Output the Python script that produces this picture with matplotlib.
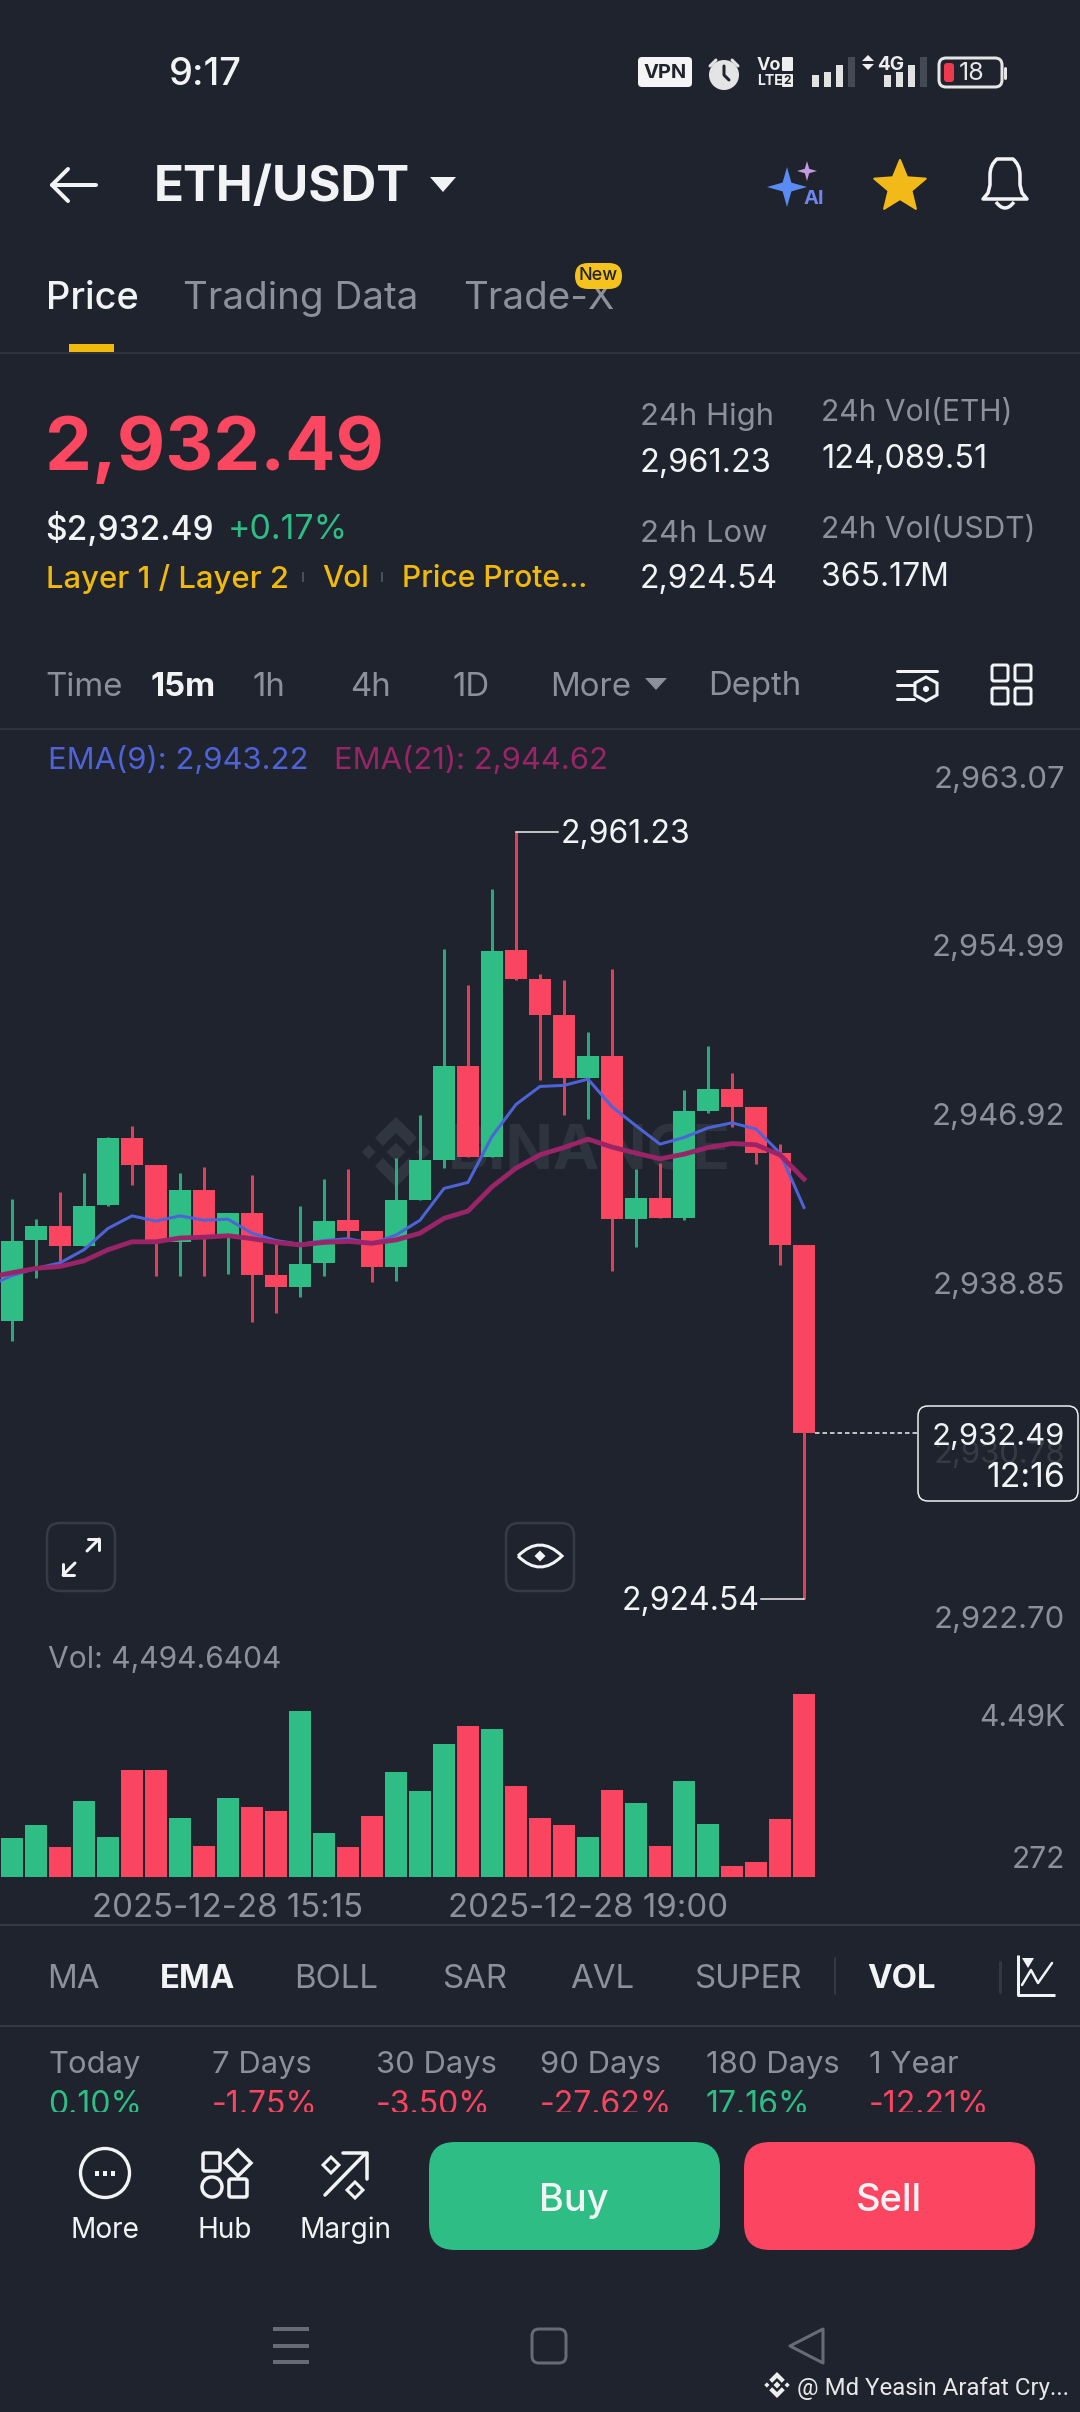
from math import cos, pi, sin

import matplotlib
matplotlib.use('Agg')
import matplotlib.pyplot as plt
from matplotlib.patches import Circle, FancyBboxPatch, PathPatch, Polygon, Rectangle
from matplotlib.path import Path
from matplotlib.transforms import ScaledTranslation

plt.rcParams['font.family'] = ['Inter', 'DejaVu Sans']

BG = '#1e232d'
GREEN = '#2ebd85'
RED = '#fa4560'
GREY = '#8b909a'
WHITE = '#f2f3f5'
YELLOW = '#f0b90b'
LINE = '#343a45'
DPI = 100
W, H = 1080, 2412

# candles, oldest first
opens = [2937.83, 2941.71, 2942.40, 2941.44, 2943.37, 2946.59, 2945.31, 2941.60, 2944.09, 2941.81,
         2943.00, 2940.04, 2939.46, 2940.62, 2942.66, 2942.16, 2940.43, 2943.62, 2945.56, 2950.06,
         2945.70, 2955.58, 2954.19, 2952.50, 2949.47, 2950.51, 2942.70, 2943.72, 2942.75, 2947.88,
         2948.93, 2948.07, 2945.87, 2941.50]
closes = [2941.69, 2942.40, 2941.44, 2943.33, 2946.59, 2945.31, 2941.72, 2944.09, 2941.93, 2943.00,
          2940.06, 2939.46, 2940.59, 2942.64, 2942.16, 2940.43, 2943.62, 2945.53, 2950.06, 2945.70,
          2955.56, 2954.19, 2952.50, 2949.47, 2950.51, 2942.70, 2943.72, 2942.75, 2947.88, 2948.93,
          2948.07, 2945.90, 2941.50, 2932.49]
highs = [2943.67, 2942.70, 2944.00, 2944.91, 2946.64, 2947.19, 2945.31, 2944.91, 2945.19, 2943.00,
         2944.82, 2941.78, 2943.32, 2944.61, 2945.10, 2942.16, 2945.62, 2947.71, 2955.61, 2953.93,
         2958.48, 2961.23, 2954.46, 2954.14, 2951.67, 2954.70, 2945.12, 2945.39, 2948.90, 2951.00,
         2949.68, 2948.07, 2946.30, 2941.50]
lows = [2936.88, 2939.88, 2940.62, 2941.42, 2943.35, 2944.34, 2940.01, 2940.01, 2940.01, 2940.10,
        2937.79, 2938.24, 2939.00, 2940.01, 2941.78, 2939.71, 2939.76, 2943.62, 2945.18, 2945.70,
        2945.70, 2954.14, 2949.36, 2947.69, 2947.51, 2940.21, 2941.36, 2942.75, 2942.65, 2947.80,
        2947.11, 2945.36, 2940.53, 2924.54]
volumes = [950, 1277, 737, 1858, 991, 2620, 2620, 1449, 753, 1940, 1719, 1629, 4077, 1089, 737, 1506, 2579,
           2112, 3267, 3709, 3643, 2227, 1441, 1269, 982, 2137, 1818, 770, 2350, 1294, 270, 377, 1425, 4494.64]

# ema lines start one candle left of the screen
ema9 = [2939.51, 2940.01, 2940.36, 2940.62, 2941.25, 2942.27, 2942.87, 2942.62, 2942.87, 2942.66, 2942.71,
        2942.04, 2941.69, 2941.51, 2941.69, 2941.78, 2941.55, 2941.95, 2942.66, 2944.18, 2944.47, 2946.67,
        2948.20, 2949.06, 2949.11, 2949.41, 2948.09, 2947.18, 2946.30, 2946.62, 2947.08, 2947.32, 2947.02,
        2945.87, 2943.27]
ema21 = [2939.92, 2940.15, 2940.36, 2940.45, 2940.72, 2941.25, 2941.63, 2941.63, 2941.81, 2941.85, 2941.92,
         2941.78, 2941.60, 2941.48, 2941.60, 2941.65, 2941.56, 2941.72, 2942.04, 2942.75, 2943.10, 2944.26,
         2945.15, 2945.79, 2946.14, 2946.54, 2946.16, 2945.87, 2945.60, 2945.82, 2946.14, 2946.33, 2946.27,
         2945.79, 2944.63]

price_ticks = [2963.07, 2954.99, 2946.92, 2938.85, 2930.78, 2922.70]
price_labels = ['2,963.07', '2,954.99', '2,946.92', '2,938.85', '2,930.78', '2,922.70']
vol_ticks = [4494.64, 272]
vol_labels = ['4.49K', '272']
date_ticks = [9, 24]
date_labels = ['2025-12-28 15:15', '2025-12-28 19:00']
high_price = 2961.23
low_price = 2924.54
last_price = 2932.49

tf_names = ['Time', '15m', '1h', '4h', '1D', 'More', 'Depth']
tf_x = [45, 151, 253, 350, 453, 550, 708]
ind_names = ['MA', 'EMA', 'BOLL', 'SAR', 'AVL', 'SUPER', 'VOL']
ind_x = [47, 160, 294, 442, 570, 694, 867]
ret_names = ['Today', '7 Days', '30 Days', '90 Days', '180 Days', '1 Year']
ret_values = ['0.10%', '-1.75%', '-3.50%', '-27.62%', '17.16%', '-12.21%']
ret_x = [48, 212, 376, 540, 706, 869]

fig = plt.figure(figsize=(W / DPI, H / DPI), dpi=DPI, facecolor=BG)


def px_axes(zorder):
    ax = fig.add_axes([0, 0, 1, 1], zorder=zorder)
    ax.set_xlim(0, W)
    ax.set_ylim(H, 0)
    ax.axis('off')
    return ax


def band_axes(top, bottom, zorder=2):
    # axes covering a horizontal pixel band of the screen
    ax = fig.add_axes([0, 1 - bottom / H, 1, (bottom - top) / H], zorder=zorder)
    ax.patch.set_alpha(0)
    for s in ax.spines.values():
        s.set_visible(False)
    # candle i is centred on pixel 12 + 24 i
    ax.set_xlim(-0.5, 44.5)
    return ax


def shift_labels(labels, offsets):
    for lab, dy in zip(labels, offsets):
        lab.set_ha('right')
        lab.set_transform(lab.get_transform() + ScaledTranslation(0, dy / DPI, fig.dpi_scale_trans))


back = px_axes(1)
ui = px_axes(5)


def txt(x, y, s, size, color=GREY, ha='left', weight='normal', **kw):
    return ui.text(x, y, s, fontsize=size * 0.72, color=color, ha=ha, va='center', fontweight=weight, **kw)


def line(xs, ys, color=WHITE, lw=3, ax=None, **kw):
    (ax or ui).plot(xs, ys, color=color, lw=lw * 0.72, solid_capstyle=kw.pop('cap', 'round'),
                    solid_joinstyle='round', **kw)


def rbox(x0, y0, x1, y1, r, fc='none', ec='none', lw=0, z=3, ax=None):
    p = FancyBboxPatch((x0 + r, y0 + r), x1 - x0 - 2 * r, y1 - y0 - 2 * r, boxstyle=f'round,pad={r},rounding_size={r}',
                       fc=fc, ec=ec, lw=lw * 0.72, zorder=z)
    (ax or ui).add_patch(p)


def diamond(cx, cy, r, fc='none', ec='none', lw=0, ax=None):
    (ax or ui).add_patch(Polygon([(cx, cy - r), (cx + r, cy), (cx, cy + r), (cx - r, cy)], closed=True,
                                 fc=fc, ec=ec, lw=lw * 0.72, zorder=4))


def sparkle(cx, cy, r, color):
    k = r * 0.22
    ui.add_patch(Polygon([(cx, cy - r), (cx + k, cy - k), (cx + r, cy), (cx + k, cy + k), (cx, cy + r),
                          (cx - k, cy + k), (cx - r, cy), (cx - k, cy - k)], closed=True, fc=color, ec='none'))


def logo(ax, cx, cy, r, color):
    diamond(cx, cy, r * 0.27, fc=color, ax=ax)
    diamond(cx - r * 0.78, cy, r * 0.2, fc=color, ax=ax)
    diamond(cx + r * 0.78, cy, r * 0.2, fc=color, ax=ax)
    for sgn in (-1, 1):
        ax.add_patch(Polygon([(cx - r * 0.6, cy + sgn * r * 0.4), (cx, cy + sgn * r), (cx + r * 0.6, cy + sgn * r * 0.4),
                              (cx + r * 0.37, cy + sgn * r * 0.17), (cx, cy + sgn * r * 0.54),
                              (cx - r * 0.37, cy + sgn * r * 0.17)], closed=True, fc=color, ec='none', zorder=4))


# ---- watermark, below the candles
logo(back, 396, 1152, 35, '#30363f')
back.text(448, 1153, 'BINANCE', fontsize=62 * 0.72, color='#2e343e', va='center', fontweight='bold')

# ---- candles
colors = [GREEN if c > o else RED for o, c in zip(opens, closes)]
xs = list(range(len(opens)))
PX_PRICE = 0.04783
chart = band_axes(750, 1640)
chart.set_ylim(high_price - (1640 - 832) * PX_PRICE, high_price + (832 - 750) * PX_PRICE)
chart.vlines(xs, lows, highs, colors=colors, lw=3 * 0.72, alpha=0.88, zorder=2)
chart.bar(xs, [abs(c - o) for o, c in zip(opens, closes)], bottom=[min(o, c) for o, c in zip(opens, closes)],
          width=0.885, color=colors, zorder=3)
ema_x = list(range(-1, len(opens)))
chart.plot(ema_x, ema9, color='#4f63d9', lw=3 * 0.72, zorder=4)
chart.plot(ema_x, ema21, color='#9a2468', lw=4.8 * 0.72, zorder=5)
chart.set_xticks([])
chart.yaxis.tick_right()
chart.set_yticks(price_ticks, price_labels)
chart.tick_params(axis='y', length=0, pad=-10.8, labelsize=31 * 0.72, labelcolor=GREY)
shift_labels(chart.get_yticklabels(), [17, 17, 17, 17, 17, 21])

# high / low markers
chart.plot([21, 22.75], [high_price, high_price], color=WHITE, lw=1.5 * 0.72, zorder=6)
chart.plot([33, 31.2], [low_price, low_price], color=WHITE, lw=1.5 * 0.72, zorder=6)
chart.annotate('2,961.23', (22.85, high_price), xytext=(0, -1.5), textcoords='offset points', color=WHITE,
               fontsize=32 * 0.72, va='center', zorder=6)
chart.annotate('2,924.54', (31.15, low_price), xytext=(0, -2), textcoords='offset points', color=WHITE,
               fontsize=32 * 0.72, va='center', ha='right', zorder=6)
chart.plot([33.45, 37.7], [last_price, last_price], color=WHITE, lw=1.5 * 0.72, ls=(0, (3, 2)), zorder=6)

# ---- volume
vol_top, vol_base = 1660, 1877
vol = band_axes(vol_top, vol_base)
vol.set_ylim(0, 4494.64 * (vol_base - vol_top) / 183)
vol.bar(xs, volumes, width=0.885, color=colors)
vol.yaxis.tick_right()
vol.set_yticks(vol_ticks, vol_labels)
vol.tick_params(axis='y', length=0, pad=-10.8, labelsize=30 * 0.72, labelcolor=GREY)
shift_labels(vol.get_yticklabels(), [-21, 9])
vol.set_xticks(date_ticks, date_labels)
vol.tick_params(axis='x', length=0, pad=11.5, labelsize=33 * 0.72, labelcolor=GREY)

# ---- status bar
txt(205, 75, '9:17', 38, WHITE, ha='center', weight='medium')
rbox(638, 57, 692, 87, 4, fc='#f4f4f4')
txt(665, 73, 'VPN', 20, BG, ha='center', weight='bold')
ui.add_patch(Circle((724, 75), 15, fc='#e4e4e4', ec='none'))
line([724, 724, 729], [66, 75, 80], BG, 3)
line([710, 716], [66, 60], '#e4e4e4', 3)
line([738, 732], [66, 60], '#e4e4e4', 3)
txt(757, 66, 'Vo', 18, '#eeeeee', weight='bold')
txt(757, 81, 'LTE', 14, '#eeeeee', weight='bold')
rbox(782, 57, 793, 71, 1, fc='#eeeeee')
rbox(782, 74, 793, 87, 1, fc='#eeeeee')
txt(787.5, 81, '2', 12, BG, ha='center', weight='bold')
for x0 in (812, 884):
    for i, top in enumerate((75, 72, 65, 57)):
        ui.add_patch(Rectangle((x0 + i * 12, top), 7, 87 - top, fc='#e2e2e2' if i < 3 else '#444a54', ec='none'))
txt(877, 65, '4G', 19, '#eeeeee', weight='bold')
ui.add_patch(Polygon([(868, 55), (874, 61), (862, 61)], closed=True, fc='#eeeeee', ec='none'))
ui.add_patch(Polygon([(868, 70), (874, 64), (862, 64)], closed=True, fc='#eeeeee', ec='none'))
rbox(939, 58, 1002, 87, 7, ec='#e6e6e6', lw=3)
rbox(944, 63, 954, 82, 3, fc='#f0384f')
txt(959, 73, '18', 25, '#e6e6e6')
line([1005, 1005], [68, 78], '#e6e6e6', 3)

# ---- header
line([52, 96], [185, 185], WHITE, 4)
line([68, 52, 68], [169, 185, 201], WHITE, 4)
txt(154, 188, 'ETH/USDT', 49.5, WHITE, weight='bold')
ui.add_patch(Polygon([(430, 177), (456, 177), (443, 192)], closed=True, fc=WHITE, ec='none', joinstyle='round'))
sparkle(787, 187, 20, '#5b8cf5')
sparkle(807, 171, 10, '#c39be0')
txt(814, 199, 'AI', 20, '#6f86ee', ha='center', weight='bold')
star = []
for i in range(10):
    r = 27 if i % 2 == 0 else 12
    star.append((900 + r * sin(i * pi / 5), 187 - r * cos(i * pi / 5)))
ui.add_patch(Polygon(star, closed=True, fc='#f3b918', ec='#f3b918', lw=1.5, joinstyle='round'))
bell = Path([(983, 199), (988, 193), (990, 185), (990, 175), (990, 165), (997, 159), (1005, 159), (1013, 159),
             (1020, 165), (1020, 175), (1020, 185), (1022, 193), (1027, 199), (983, 199)],
            [Path.MOVETO, Path.LINETO, Path.LINETO, Path.LINETO, Path.CURVE3, Path.CURVE3, Path.CURVE3, Path.CURVE3,
             Path.CURVE3, Path.CURVE3, Path.LINETO, Path.LINETO, Path.LINETO, Path.CLOSEPOLY])
ui.add_patch(PathPatch(bell, fc='none', ec=WHITE, lw=3.5 * 0.72, joinstyle='round'))
ui.add_patch(PathPatch(Path([(996, 202), (1005, 214), (1014, 202)], [Path.MOVETO, Path.CURVE3, Path.CURVE3]),
                       fc='none', ec=WHITE, lw=3.5 * 0.72))

# ---- tabs
txt(46, 299, 'Price', 38, WHITE, weight='medium')
txt(183, 299, 'Trading Data', 38.5, GREY)
txt(463, 299, 'Trade-X', 38.5, GREY)
rbox(575, 263, 622, 289, 13, fc='#f6c21c', z=6)
ui.text(598.5, 276, 'New', fontsize=18 * 0.72, color='#20242c', ha='center', va='center', fontweight='medium', zorder=7)
ui.add_patch(Rectangle((69, 344), 45, 8, fc=YELLOW, ec='none'))
line([0, W], [353, 353], LINE, 1.5)

# ---- price block
txt(45, 451, '2,932.49', 74.5, '#fb4760', weight='bold')
txt(45, 530, '$2,932.49', 33.5, WHITE, weight='medium')
txt(228, 530, '+0.17%', 34, GREEN)
txt(46, 579, 'Layer 1 / Layer 2', 31, YELLOW, weight='medium')
txt(322, 579, 'Vol', 30, YELLOW, weight='medium')
txt(402, 579, 'Price Prote...', 30, YELLOW, weight='medium')
ui.add_patch(Rectangle((302, 572), 2, 10, fc='#4a4f59', ec='none'))
ui.add_patch(Rectangle((381, 572), 2, 10, fc='#4a4f59', ec='none'))
txt(640, 417, '24h High', 31)
txt(640, 464, '2,961.23', 32.5, WHITE)
txt(821, 413, '24h Vol(ETH)', 30)
txt(821, 459, '124,089.51', 32.5, WHITE)
txt(640, 534, '24h Low', 31)
txt(640, 580, '2,924.54', 32, WHITE)
txt(821, 530, '24h Vol(USDT)', 30)
txt(821, 577, '365.17M', 32, WHITE)

# ---- timeframe row
for name, x in zip(tf_names, tf_x):
    sel = name == '15m'
    txt(x, 687, name, 33, WHITE if sel else GREY, weight='bold' if sel else 'normal')
ui.add_patch(Polygon([(645, 678), (667, 678), (656, 690)], closed=True, fc=GREY, ec='none'))
line([897, 937], [671, 671], WHITE, 3)
line([897, 914], [685, 685], WHITE, 3)
line([897, 914], [699, 699], WHITE, 3)
ui.add_patch(Polygon([(926, 677), (937, 683), (937, 695), (926, 701), (915, 695), (915, 683)], closed=True,
                     fc=BG, ec=WHITE, lw=2.2))
ui.add_patch(Circle((926, 689), 3, fc=WHITE, ec='none'))
for bx in (992, 1015):
    for by in (665, 688):
        rbox(bx, by, bx + 16, by + 16, 2, ec=WHITE, lw=3)
line([0, W], [729, 729], LINE, 1.5)

# ---- chart labels and buttons
txt(48, 761, 'EMA(9): 2,943.22', 31, '#4f63d9')
txt(334, 761, 'EMA(21): 2,944.62', 31, '#9a2468')
rbox(918, 1406, 1078, 1501, 10, fc=BG + 'c8', ec=WHITE, lw=1.5)
txt(1065, 1437, '2,932.49', 31, WHITE, ha='right', zorder=6)
txt(1065, 1478, '12:16', 34, WHITE, ha='right', zorder=6)
rbox(47, 1523, 115, 1591, 13, ec='#363c47', lw=2.5)
line([87, 99], [1551, 1539], WHITE, 3)
line([88, 99, 99], [1539, 1539, 1550], WHITE, 3)
line([75, 63], [1563, 1575], WHITE, 3)
line([63, 63, 74], [1564, 1575, 1575], WHITE, 3)
rbox(506, 1523, 574, 1591, 13, ec='#363c47', lw=2.5)
ui.add_patch(PathPatch(Path([(518, 1556), (540, 1534), (562, 1556), (540, 1578), (518, 1556)],
                            [Path.MOVETO, Path.CURVE3, Path.CURVE3, Path.CURVE3, Path.CURVE3]),
                       fc='none', ec=WHITE, lw=2.2))
diamond(540, 1556, 5.5, fc=WHITE)
txt(48, 1660, 'Vol: 4,494.6404', 30)
line([0, W], [1925, 1925], LINE, 2)

# ---- indicator row
for name, x in zip(ind_names, ind_x):
    sel = name in ('EMA', 'VOL')
    txt(x, 1979, name, 33, WHITE if sel else GREY, weight='bold' if sel else 'normal')
line([835, 835], [1958, 1994], LINE, 2)
line([1000, 1000], [1962, 1992], '#33383f', 3)
line([1018, 1018, 1055], [1955, 1995, 1995], WHITE, 3, cap='butt')
line([1022, 1031, 1038, 1052], [1985, 1970, 1983, 1963], WHITE, 2.5)
ui.add_patch(Polygon([(1022, 1958), (1034, 1958), (1028, 1968)], closed=True, fc=WHITE, ec='none'))
line([0, W], [2026, 2026], LINE, 2)

# ---- returns row, values get cut by the action bar
value_clip = Rectangle((0, 2030), W, 82, transform=ui.transData)
for name, val, x in zip(ret_names, ret_values, ret_x):
    txt(x, 2065, name, 31)
    t = txt(x, 2106, val, 32, RED if val.startswith('-') else GREEN)
    t.set_clip_on(True)
    t.set_clip_path(value_clip)

# ---- action bar
rbox(429, 2142, 720, 2250, 26, fc=GREEN)
rbox(744, 2142, 1035, 2250, 26, fc='#fc4560')
txt(574, 2201, 'Buy', 38, WHITE, ha='center', weight='medium', zorder=6)
txt(889, 2201, 'Sell', 38, WHITE, ha='center', weight='medium', zorder=6)
ui.add_patch(Circle((105, 2173), 24.5, fc='none', ec=WHITE, lw=2.4, zorder=4))
for dx in (-8, 0, 8):
    ui.add_patch(Rectangle((105 + dx - 2, 2171), 4, 5, fc=WHITE, ec='none', zorder=4))
rbox(203, 2153, 220, 2171, 2, ec=WHITE, lw=3.5)
diamond(238, 2163, 13, ec=WHITE, lw=3.5)
ui.add_patch(Circle((212, 2187), 10, fc='none', ec=WHITE, lw=2.5, zorder=4))
rbox(229, 2179, 247, 2197, 2, ec=WHITE, lw=3.5)
line([325, 365], [2195, 2154], WHITE, 3.5)
line([343, 367, 367], [2153, 2153, 2179], WHITE, 3.5)
diamond(331, 2165, 8, ec=WHITE, lw=3)
diamond(355, 2190, 8, ec=WHITE, lw=3)
txt(105, 2230, 'More', 28, WHITE, ha='center')
txt(225, 2230, 'Hub', 28, WHITE, ha='center')
txt(345, 2230, 'Margin', 28, WHITE, ha='center')

# ---- nav bar
for y in (2329, 2346, 2362):
    line([273, 309], [y, y], '#666b75', 4, cap='butt')
rbox(532, 2329, 566, 2363, 7, ec='#666b75', lw=3)
ui.add_patch(Polygon([(823, 2329), (790, 2346), (823, 2363)], closed=True, fc='none', ec='#666b75', lw=2.2,
                     joinstyle='round'))
logo(ui, 777, 2385, 13, '#eeeeee')
ui.text(797, 2388, '@ Md Yeasin Arafat Cry...', fontsize=24 * 0.72, color='#e8e8e8', va='center', family='Roboto')

fig.savefig('out.png', dpi=DPI, facecolor=BG)
